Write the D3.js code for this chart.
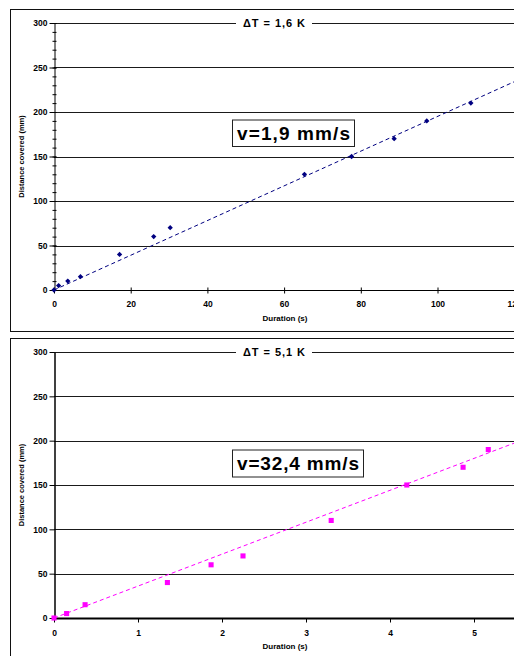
<!DOCTYPE html>
<html>
<head>
<meta charset="utf-8">
<script src="https://cdn.jsdelivr.net/npm/d3@7"></script>
<style>
  body { margin: 0; background: #fff; }
  svg { display: block; font-family: Arial, "Liberation Sans", sans-serif; }
</style>
</head>
<body>
<div id="chart"></div>
<script>
// values
var durationSlow = [0, 1.2, 3.6, 6.9, 17.1, 26, 30.3, 65.3, 77.6, 88.7, 97.2, 108.7];
var distanceSlow = [0, 5, 10, 15, 40, 60, 70, 130, 150, 170, 190, 210];
var durationFast = [0, 0.15, 0.37, 1.35, 1.87, 2.25, 3.30, 4.20, 4.87, 5.17];
var distanceFast = [0, 5, 15, 40, 60, 70, 110, 150, 170, 190];

var titles = ["ΔT = 1,6 K", "ΔT = 5,1 K"];
var speedLabels = ["v=1,9 mm/s", "v=32,4 mm/s"];
var trendSlopes = [1.95, 36];

var yTicks = [0, 50, 100, 150, 200, 250, 300];
var xTicksSlow = [0, 20, 40, 60, 80, 100, 120];
var xTicksFast = [0, 1, 2, 3, 4, 5];

var width = 514, height = 656;

var svg = d3.select("#chart")
            .append("svg")
            .attr("width", width)
            .attr("height", height);

var panels = [
  {
    xs: durationSlow, ys: distanceSlow, xTicks: xTicksSlow, xMax: 140,
    title: titles[0], label: speedLabels[0], slope: trendSlopes[0],
    box: {x: 10, y: 9, h: 322},
    plot: {left: 54, right: 54 + 140 * 3.835, top: 23, bottom: 290},
    color: "#000080", marker: "diamond", minor: true, axisWidth: 1,
    labelBox: {x: 232, y: 119.5, w: 122, h: 26.5, textLen: 113}
  },
  {
    xs: durationFast, ys: distanceFast, xTicks: xTicksFast, xMax: 6,
    title: titles[1], label: speedLabels[1], slope: trendSlopes[1],
    box: {x: 10, y: 338, h: 330},
    plot: {left: 54, right: 54 + 6 * 84, top: 352, bottom: 618},
    color: "#FF00FF", marker: "square", minor: false, axisWidth: 2,
    labelBox: {x: 232, y: 449.5, w: 131, h: 27, textLen: 122}
  }
];

panels.forEach(drawPanel);

function drawPanel(p) {
  var g = svg.append("g");

  g.append("rect")
   .attr("x", p.box.x + 0.5)
   .attr("y", p.box.y + 0.5)
   .attr("width", 700)
   .attr("height", p.box.h)
   .attr("fill", "#fff")
   .attr("stroke", "#111")
   .attr("stroke-width", 1);

  var x = d3.scaleLinear().domain([0, p.xMax]).range([p.plot.left, p.plot.right]);
  var y = d3.scaleLinear().domain([0, 300]).range([p.plot.bottom, p.plot.top]);

  // gridlines
  g.selectAll(".grid")
   .data(yTicks.filter((d) => d > 0))
   .enter()
   .append("line")
   .attr("x1", p.plot.left)
   .attr("x2", width + 10)
   .attr("y1", (d) => Math.round(y(d)) + 0.5)
   .attr("y2", (d) => Math.round(y(d)) + 0.5)
   .attr("stroke", "#1a1a1a")
   .attr("stroke-width", 1);

  // y axis
  var yAxis = g.append("g")
               .attr("transform", `translate(${p.plot.left + 0.5},0)`)
               .call(d3.axisLeft(y).tickValues(yTicks).tickSizeOuter(0).tickSizeInner(p.minor ? 5 : 0).tickPadding(p.minor ? 2 : 7));
  yAxis.select(".domain").attr("stroke", "#000").attr("stroke-width", p.axisWidth === 2 ? 1.5 : 1);
  yAxis.selectAll(".tick line").attr("x2", -5).attr("x1", p.minor ? 2 : 0).attr("stroke", "#000");
  yAxis.selectAll(".tick text")
       .style("font-size", "8.5px")
       .style("font-weight", "bold")
       .attr("fill", "#000");

  if (p.minor) {
    var minorAxis = g.append("g")
                     .attr("transform", `translate(${p.plot.left + 0.5},0)`)
                     .call(d3.axisLeft(y).tickValues(d3.range(0, 301, 10)).tickFormat("").tickSize(2).tickSizeOuter(0));
    minorAxis.select(".domain").remove();
    minorAxis.selectAll(".tick line").attr("x1", 2).attr("stroke", "#000");
  }

  // x axis
  var xAxis = g.append("g")
               .attr("transform", `translate(0,${Math.round(p.plot.bottom) + 0.5})`)
               .call(d3.axisBottom(x).tickValues(p.xTicks).tickFormat((d) => d).tickSizeOuter(0).tickSizeInner(p.minor ? 3 : 4).tickPadding(7));
  xAxis.select(".domain").attr("stroke", "#000").attr("stroke-width", p.axisWidth)
       .attr("d", `M${p.plot.left},0H${width + 10}`);
  xAxis.selectAll(".tick line").attr("y1", p.minor ? -3 : 0).attr("stroke", "#000");
  xAxis.selectAll(".tick text")
       .style("font-size", "8.5px")
       .style("font-weight", "bold")
       .attr("fill", "#000");

  // axis titles
  g.append("text")
   .attr("transform", `translate(24,${(p.plot.top + p.plot.bottom) / 2}) rotate(-90)`)
   .attr("text-anchor", "middle")
   .style("font-size", "7.5px")
   .style("font-weight", "bold")
   .text("Distance covered (mm)");

  g.append("text")
   .attr("x", 285)
   .attr("y", p.plot.bottom + 31)
   .attr("text-anchor", "middle")
   .style("font-size", "8px")
   .style("font-weight", "bold")
   .text("Duration (s)");

  // title sitting on the top gridline
  var tx = 274;
  g.append("rect")
   .attr("x", tx - 38)
   .attr("y", p.plot.top - 7)
   .attr("width", 76)
   .attr("height", 14)
   .attr("fill", "#fff");
  g.append("text")
   .attr("x", tx)
   .attr("y", p.plot.top + 4)
   .attr("text-anchor", "middle")
   .attr("textLength", 62)
   .attr("lengthAdjust", "spacing")
   .style("font-size", "11px")
   .style("font-weight", "bold")
   .text(p.title);

  // trend line through origin
  var line = d3.line().x((d) => x(d)).y((d) => y(d * p.slope));
  g.append("path")
   .datum([0, p.xMax])
   .attr("d", line)
   .attr("fill", "none")
   .attr("stroke", p.color)
   .attr("stroke-width", 1)
   .attr("stroke-dasharray", "4,3");

  // markers
  var pts = p.xs.map((d, i) => ({x: d, y: p.ys[i]}));
  var diamond = p.marker === "diamond";
  g.selectAll(".pt")
   .data(pts)
   .enter()
   .append("path")
   .attr("transform", (d) => `translate(${x(d.x)},${y(d.y)})` + (diamond ? " rotate(45)" : ""))
   .attr("d", d3.symbol().type(d3.symbolSquare).size(diamond ? 14 : 26))
   .attr("fill", p.color);

  // speed label
  g.append("rect")
   .attr("x", p.labelBox.x + 0.5)
   .attr("y", p.labelBox.y + 0.5)
   .attr("width", p.labelBox.w)
   .attr("height", p.labelBox.h)
   .attr("fill", "#fff")
   .attr("stroke", "#222")
   .attr("stroke-width", 1);
  g.append("text")
   .attr("x", p.labelBox.x + p.labelBox.w / 2 + 0.5)
   .attr("y", p.labelBox.y + p.labelBox.h / 2 + 7)
   .attr("text-anchor", "middle")
   .attr("textLength", p.labelBox.textLen)
   .attr("lengthAdjust", "spacing")
   .style("font-size", "19px")
   .style("font-weight", "bold")
   .text(p.label);
}
</script>
</body>
</html>
